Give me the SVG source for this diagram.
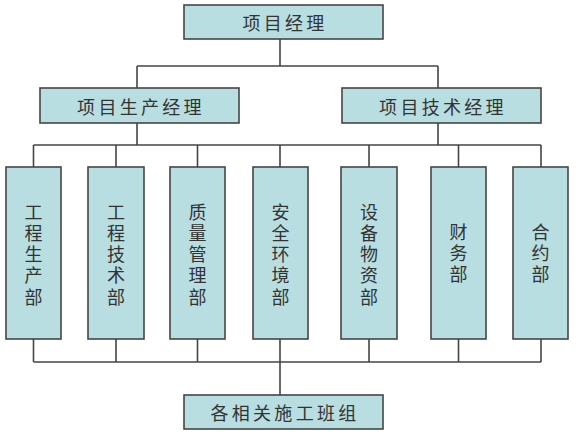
<svg xmlns="http://www.w3.org/2000/svg" width="576" height="432" viewBox="0 0 576 432">
<style>
.box{fill:#B8DEE1;stroke:#454545;stroke-width:1.6}
.ln{fill:none;stroke:#454545;stroke-width:1.6}
text{font-family:"Noto Sans CJK SC","Noto Sans",sans-serif;font-size:18px;fill:#333;dominant-baseline:central;text-anchor:middle;letter-spacing:3.3px}
.v{writing-mode:vertical-rl;text-orientation:upright}
</style>
<rect width="576" height="432" fill="#fff"/>
<g id="connectors" class="ln">
<path d="M280 39V66M137 66H438M137 66V88M438 66V88"/>
<path d="M137 123V145M438 123V145M33.5 145H541"/>
<path d="M33.5 145V167M116 145V167M197.5 145V167M280 145V167M369 145V167M458.5 145V167M541 145V167"/>
<path d="M33.5 339V362M116 339V362M197.5 339V362M280 339V362M369 339V362M458.5 339V362M541 339V362M33.5 362H541"/>
<path d="M280 362V395"/>
</g>
<g id="n_pm"><rect class="box" x="184" y="5" width="199" height="34"/><text x="285" y="22">项目经理</text></g>
<g id="n_prod_mgr"><rect class="box" x="40" y="88" width="199" height="35"/><text x="141" y="105.5">项目生产经理</text></g>
<g id="n_tech_mgr"><rect class="box" x="342" y="88" width="199" height="35"/><text x="443" y="105.5">项目技术经理</text></g>
<g id="n_d1"><rect class="box" x="6" y="167" width="55" height="172"/><text class="v" x="33.5" y="256">工程生产部</text></g>
<g id="n_d2"><rect class="box" x="88" y="167" width="56" height="172"/><text class="v" x="116" y="256">工程技术部</text></g>
<g id="n_d3"><rect class="box" x="170" y="167" width="55" height="172"/><text class="v" x="197.5" y="256">质量管理部</text></g>
<g id="n_d4"><rect class="box" x="253" y="167" width="55" height="172"/><text class="v" x="280.5" y="256">安全环境部</text></g>
<g id="n_d5"><rect class="box" x="341" y="167" width="56" height="172"/><text class="v" x="369" y="256">设备物资部</text></g>
<g id="n_d6"><rect class="box" x="431" y="167" width="55" height="172"/><text class="v" x="458.5" y="255">财务部</text></g>
<g id="n_d7"><rect class="box" x="513" y="167" width="55" height="172"/><text class="v" x="540.5" y="255">合约部</text></g>
<g id="n_teams"><rect class="box" x="184" y="395" width="199" height="34"/><text x="285" y="412">各相关施工班组</text></g>
</svg>
